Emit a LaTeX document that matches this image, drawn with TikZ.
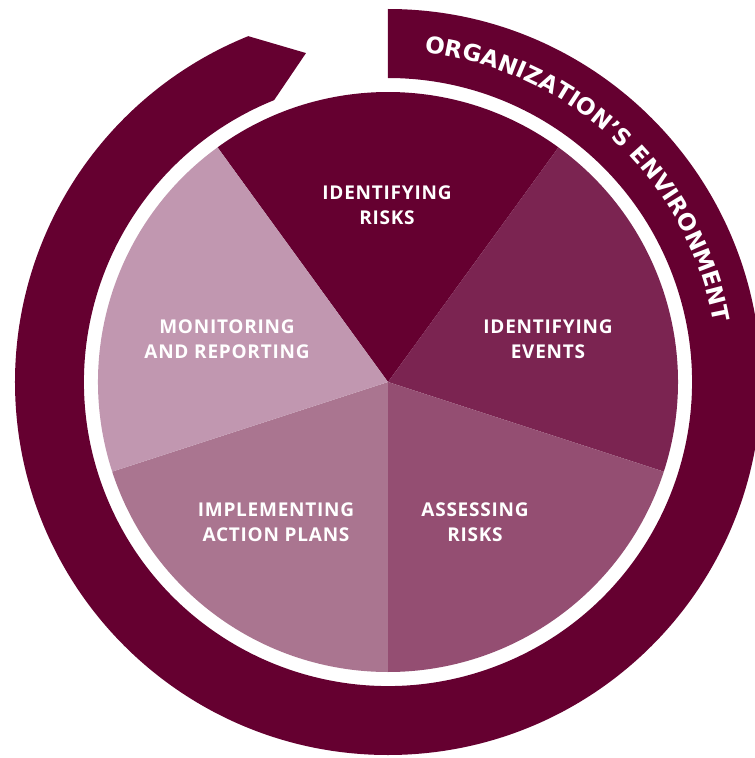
\documentclass[tikz,border=0pt]{standalone}
\usepackage{fontspec}
\setmainfont{Open Sans}
\newfontfamily\labelfont[LetterSpace=4.0]{Open Sans}
\newfontfamily\ringfont{DejaVu Sans}
\usetikzlibrary{decorations.text}
\definecolor{ringcol}{HTML}{650030}
\definecolor{secA}{HTML}{650030}
\definecolor{secB}{HTML}{7B2451}
\definecolor{secC}{HTML}{944E72}
\definecolor{secD}{HTML}{AA7590}
\definecolor{secE}{HTML}{C197B0}
\tikzset{
  lbl/.style={text=white, font=\labelfont\bfseries\fontsize{19}{25.5}\selectfont, align=center},
  sector/.style={draw=none}
}
\begin{document}
\begin{tikzpicture}[x=1pt,y=1pt]
\useasboundingbox (-388,-376) rectangle (367,382);
\clip (-388,-376) rectangle (367,382);
% outer environment ring with arrow end
\fill[ringcol] (90:373) arc[start angle=90, end angle=-248, radius=373]
  -- (-256:339) -- (-248:304) arc[start angle=-248, end angle=90, radius=304] -- cycle;
% pie sectors
\coordinate (c) at (0,0);
\fill[secA, sector] (c) -- (54:290) arc[start angle=54, end angle=126, radius=290] -- cycle;
\fill[secB, sector] (c) -- (-18:290) arc[start angle=-18, end angle=54, radius=290] -- cycle;
\fill[secC, sector] (c) -- (-90:290) arc[start angle=-90, end angle=-18, radius=290] -- cycle;
\fill[secD, sector] (c) -- (198:290) arc[start angle=198, end angle=270, radius=290] -- cycle;
\fill[secE, sector] (c) -- (126:290) arc[start angle=126, end angle=198, radius=290] -- cycle;
% labels
\node[lbl] (risks)   at (-1,177)   {IDENTIFYING\\RISKS};
\node[lbl] (events)  at (160,43)   {IDENTIFYING\\EVENTS};
\node[lbl] (assess)  at (87,-140)  {ASSESSING\\RISKS};
\node[lbl] (implem)  at (-112,-140){IMPLEMENTING\\ACTION PLANS};
\node[lbl] (monitor) at (-161,43)  {MONITORING\\AND REPORTING};
% ring text
\path[decorate, decoration={text along path, text align=center,
  text={|\ringfont\bfseries\fontsize{23}{23}\selectfont\color{white}|ORGANIZATION’S ENVIRONMENT}}]
  (90:331) arc[start angle=90, end angle=4, radius=331];
\end{tikzpicture}
\end{document}
